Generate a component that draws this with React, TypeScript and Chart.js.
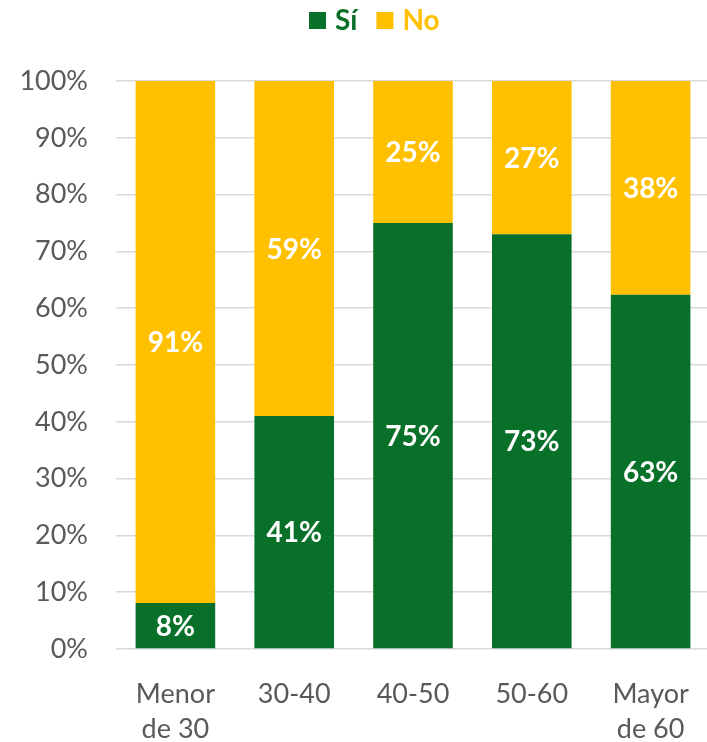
import React, { useEffect, useRef } from "react";
import { Chart, registerables } from "chart.js";

Chart.register(...registerables);

const categories: (string | string[])[] = [["Menor", "de 30"], "30-40", "40-50", "50-60", ["Mayor", "de 60"]];
const siValues = [8, 41, 75, 73, 63];
const noValues = [91, 59, 25, 27, 38];
const seriesNames = ["Sí", "No"];
const yTicks = [0, 10, 20, 30, 40, 50, 60, 70, 80, 90, 100];

const GREEN = "#097029";
const YELLOW = "#FFC000";
const GRAY = "#595959";
const FONT = "Lato, 'Liberation Sans', sans-serif";

// 100% stacked: each bar's share of its category total
const share = (a: number[], b: number[]) => a.map((v, i) => (v / (a[i] + b[i])) * 100);

const labelPlugin = {
  id: "segLabels",
  afterDatasetsDraw(chart: any) {
    const ctx = chart.ctx;
    const raw = [siValues, noValues];
    ctx.save();
    ctx.fillStyle = "#FFFFFF";
    ctx.font = `bold 28px ${FONT}`;
    ctx.textAlign = "center";
    ctx.textBaseline = "middle";
    chart.data.datasets.forEach((_ds: any, di: number) => {
      const meta = chart.getDatasetMeta(di);
      meta.data.forEach((el: any, i: number) => {
        const cy = (el.y + el.base) / 2;
        ctx.fillText(raw[di][i] + "%", el.x, cy + 1);
      });
    });
    ctx.restore();
  },
};

const legendPlugin = {
  id: "topLegend",
  afterDraw(chart: any) {
    const ctx = chart.ctx;
    ctx.save();
    ctx.font = `bold 28px ${FONT}`;
    ctx.textBaseline = "alphabetic";
    ctx.textAlign = "left";
    let x = 309;
    chart.data.datasets.forEach((ds: any) => {
      ctx.fillStyle = ds.backgroundColor;
      ctx.fillRect(x, 12, 17, 17);
      x += 17 + 9;
      ctx.fillText(ds.label, x, 30);
      x += ctx.measureText(ds.label).width + 19;
    });
    ctx.restore();
  },
};

export default function App() {
  const ref = useRef<HTMLCanvasElement>(null);
  useEffect(() => {
    document.body.style.margin = "0";
    document.body.style.overflow = "hidden";
    const chart = new Chart(ref.current!, {
      type: "bar",
      data: {
        labels: categories as any,
        datasets: [
          { label: seriesNames[0], data: share(siValues, noValues), backgroundColor: GREEN, barPercentage: 0.67, categoryPercentage: 1 },
          { label: seriesNames[1], data: share(noValues, siValues), backgroundColor: YELLOW, barPercentage: 0.67, categoryPercentage: 1 },
        ],
      },
      options: {
        animation: false,
        responsive: false,
        maintainAspectRatio: false,
        layout: { padding: { top: 81, left: 0, right: 0, bottom: 0 } },
        plugins: {
          tooltip: { enabled: false },
          legend: { display: false },
        },
        scales: {
          x: {
            stacked: true,
            grid: { display: false },
            border: { display: false },
            afterFit: (s: any) => {
              s.height = 93;
            },
            ticks: { color: GRAY, font: { family: FONT, size: 27, lineHeight: 1.3 }, padding: 20, maxRotation: 0, autoSkip: false },
          },
          y: {
            stacked: true,
            min: 0,
            max: 100,
            afterBuildTicks: (s: any) => {
              s.ticks = yTicks.map((v) => ({ value: v }));
            },
            afterFit: (s: any) => {
              s.width = 116;
            },
            grid: { color: "#D9D9D9", lineWidth: 1.5, drawTicks: false },
            border: { display: false },
            ticks: { color: GRAY, font: { family: FONT, size: 27 }, padding: 28, callback: (v: any) => v + "%" },
          },
        },
      },
      plugins: [labelPlugin, legendPlugin],
    });
    return () => chart.destroy();
  }, []);
  return (
    <div style={{ width: 707, height: 742, overflow: "hidden" }}>
      <canvas ref={ref} width={710} height={742} style={{ display: "block", width: 710, height: 742 }} />
    </div>
  );
}
